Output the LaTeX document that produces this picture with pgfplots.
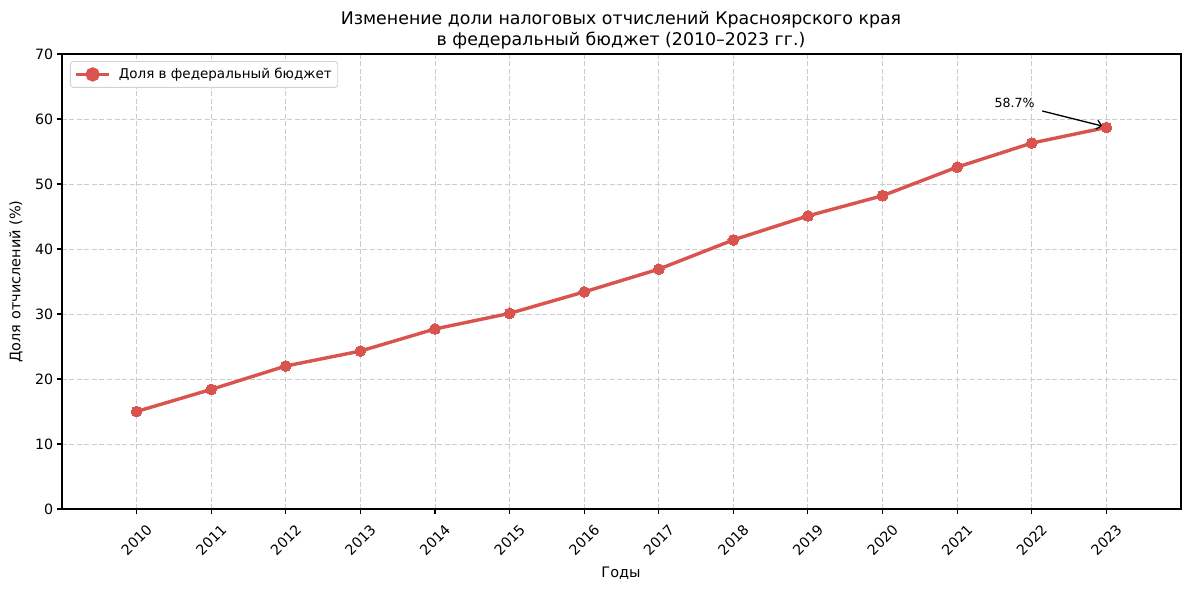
\documentclass[border=0pt]{standalone}
\usepackage{fontspec}
\setmainfont{DejaVu Sans}
\usepackage{pgfplots}
\pgfplotsset{compat=1.18}
\usetikzlibrary{arrows.meta}
\definecolor{linered}{RGB}{217,83,79}
\definecolor{gridgray}{RGB}{204,204,204}
\definecolor{legframe}{RGB}{210,210,210}

\pgfplotstableread{
year share
2010 15.0
2011 18.4
2012 22.0
2013 24.3
2014 27.7
2015 30.1
2016 33.4
2017 36.9
2018 41.4
2019 45.1
2020 48.2
2021 52.6
2022 56.3
2023 58.7
}\datatable

\begin{document}
\begin{tikzpicture}[x=1pt,y=1pt]
\useasboundingbox (0,0) rectangle (1189,590);
\begin{axis}[
  at={(62pt,81pt)}, anchor=south west,
  width=1119pt, height=455pt, scale only axis,
  xmin=2009, xmax=2024, ymin=0, ymax=70,
  xtick={2010,...,2023}, ytick={0,10,...,70},
  xtick pos=bottom, ytick pos=left,
  tick align=outside,
  major tick length=4.9pt,
  every tick/.style={black, line width=1.1pt},
  axis line style={black, line width=1.1pt},
  /pgf/number format/assume math mode=true,
  /pgf/number format/1000 sep={},
  tick label style={font=\fontsize{14.2}{16}\selectfont},
  xticklabel style={shift={(0pt,-26pt)}, rotate=45, anchor=center},
  yticklabel style={anchor=east, xshift=-0.5pt},
  grid=major,
  major grid style={gridgray, line width=0.9pt, dash pattern=on 5pt off 2.5pt},
  legend style={at={(0,1)}, anchor=north west, xshift=8pt, yshift=-7pt,
    draw=legframe, line width=0.9pt, rounded corners=3pt,
    inner xsep=4pt, inner ysep=5pt,
    font=\fontsize{13.5}{15}\selectfont,
    /tikz/every odd column/.append style={column sep=6pt}},
  legend cell align=left,
  legend image code/.code={
    \draw[linered, line width=3.4pt] (0pt,0pt) -- (33pt,0pt);
    \fill[linered] (16.5pt,0pt) circle (5.4pt);
  },
]
\addplot[linered, line width=3.4pt, mark=*, mark size=5.4pt, mark options={fill=linered, draw=linered, line width=0pt}]
  table[x=year, y=share] {\datatable};
\addlegendentry{Доля в федеральный бюджет}
\node[anchor=base west, font=\fontsize{12.6}{14}\selectfont, inner sep=0pt] at (axis cs:2021.5,61.7) {58.7\%};
\draw[-{Straight Barb[length=5pt,width=9pt]}, line width=1.3pt] (axis cs:2022.14,61.23) -- (axis cs:2022.95,58.9);
\end{axis}
\node[font=\fontsize{17.4}{19}\selectfont] at (621,570) {Изменение доли налоговых отчислений Красноярского края};
\node[font=\fontsize{17.4}{19}\selectfont] at (621,549) {в федеральный бюджет (2010–2023 гг.)};
\node[font=\fontsize{14.5}{16}\selectfont] at (621,17) {Годы};
\node[font=\fontsize{14.5}{16}\selectfont, rotate=90] at (16,308.5) {Доля отчислений (\%)};
\end{tikzpicture}
\end{document}
